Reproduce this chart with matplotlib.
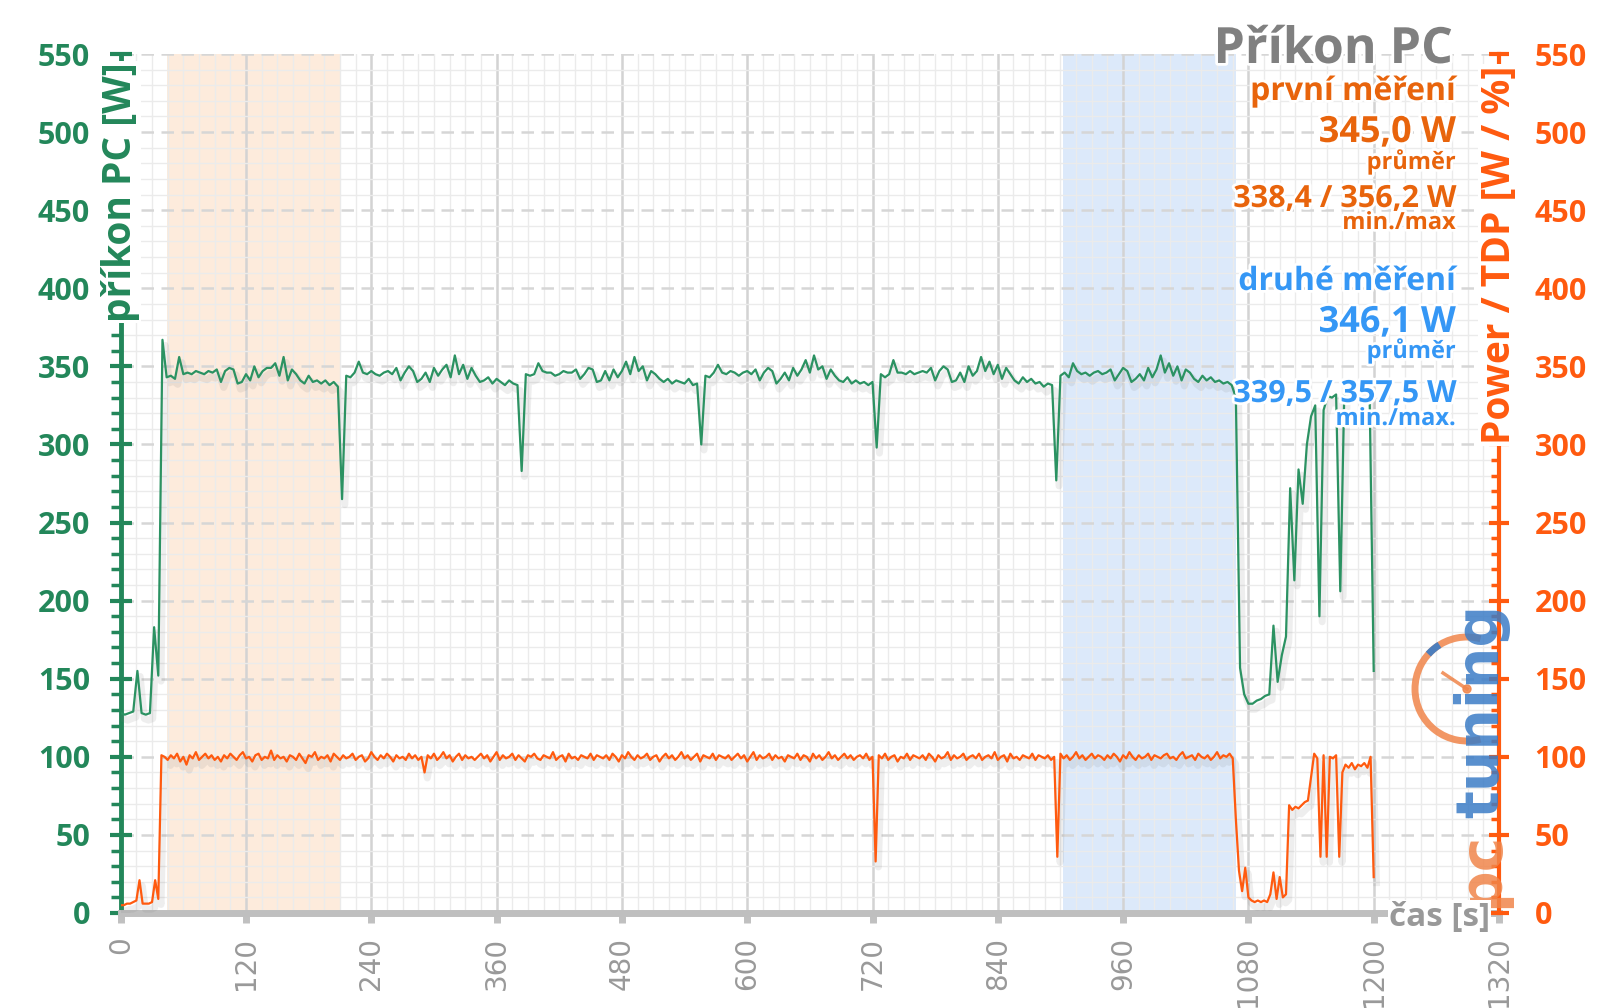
import numpy as np
import matplotlib
matplotlib.use('Agg')
import matplotlib.pyplot as plt
from matplotlib import patheffects as pe
from matplotlib.ticker import MultipleLocator
from matplotlib.patches import Arc, Circle

plt.rcParams['font.family'] = ['Open Sans', 'DejaVu Sans']

# příkon PC [W], jeden vzorek každé 4 s (0 .. 1200 s)
prikon_pc = [
    128, 127, 128, 129, 155, 128, 127, 128, 183, 152, 367,
    343, 344, 342, 356, 345, 346, 345, 347, 346, 345, 347, 346, 348, 340, 347, 349, 348, 339, 340, 345, 341,
    350, 343, 347, 349, 349, 352, 344, 356, 341, 348, 345, 341, 339, 344, 340, 341, 339, 341, 338, 340, 337,
    265,
    344, 343, 346, 353, 346, 345, 347, 345, 344, 346, 347, 345, 349, 341, 346, 350, 347, 340, 342, 346, 340,
    349, 344, 348, 351, 343, 357, 345, 351, 342, 349, 344, 340, 341, 343, 339, 342, 340, 338, 341, 339, 338,
    283,
    345, 344, 345, 352, 347, 346, 346, 344, 345, 347, 346, 346, 348, 342, 345, 349, 348, 340, 341, 347, 341,
    348, 343, 347, 353, 345, 356, 347, 350, 341, 347, 345, 342, 340, 342, 339, 341, 340, 339, 342, 338, 339,
    300,
    344, 343, 346, 351, 346, 345, 347, 346, 344, 346, 347, 345, 348, 341, 346, 349, 347, 339, 342, 346, 341,
    349, 344, 348, 354, 346, 357, 348, 350, 342, 348, 344, 341, 340, 343, 339, 341, 339, 340, 338, 340,
    298,
    345, 343, 345, 354, 346, 346, 345, 347, 345, 346, 347, 346, 349, 341, 347, 350, 348, 340, 341, 346, 340,
    350, 344, 347, 356, 347, 353, 345, 351, 342, 349, 345, 341, 339, 343, 340, 342, 339, 340, 337, 339, 338,
    277,
    344, 346, 343, 352, 347, 345, 346, 344, 346, 347, 345, 346, 348, 341, 345, 349, 347, 340, 342, 345, 341,
    349, 343, 348, 357, 346, 352, 344, 350, 341, 348, 346, 342, 340, 344, 341, 343, 340, 341, 339, 340, 338,
    330, 157, 140, 134, 134, 136, 137, 139, 140, 184, 148, 165, 177, 272, 213, 284, 262, 300, 318, 325,
    190, 322, 331, 330, 332, 206, 338, 336, 340, 334, 338, 336, 335, 155,
]

# Power / TDP [W / %], jeden vzorek každé 3 s (0 .. 1200 s)
power_tdp = [
    5, 5, 6, 6, 7, 8, 21, 6, 6, 6, 7, 21, 9, 101,
    100, 98, 101, 99, 102, 97, 100, 95, 101, 99, 103, 98, 100, 102, 99, 101, 98, 100, 97, 101,
    99, 102, 100, 98, 101, 103, 99, 100, 97, 101, 102, 98, 100, 99, 104, 98, 101, 99, 100, 97,
    101, 100, 98, 102, 99, 96, 101, 100, 103, 98, 100, 99, 101, 97, 102, 100, 98, 101, 99, 100,
    102, 98, 100, 101, 97, 99, 103, 100, 98, 101, 99, 102, 100, 97, 101, 99, 100, 98, 102, 99,
    101, 98, 100, 90, 101, 99, 102, 98, 100, 103, 99, 101, 97, 100, 102, 98, 101, 99, 100, 98,
    100, 102, 99, 101, 97, 100, 103, 98, 101, 99, 100, 102, 98, 101, 99, 97, 101, 100, 102, 99,
    98, 101, 100, 99, 103, 98, 100, 101, 97, 102, 99, 100, 98, 101, 100, 99, 102, 98, 101, 100,
    99, 101, 98, 102, 100, 97, 101, 99, 103, 100, 98, 101, 99, 100, 102, 98, 100, 101, 97, 100,
    102, 99, 101, 98, 100, 103, 99, 101, 98, 100, 102, 97, 101, 100, 99, 102, 98, 101, 100, 99,
    101, 98, 100, 102, 99, 101, 97, 100, 103, 98, 101, 99, 100, 102, 98, 101, 99, 100, 97, 101,
    100, 99, 102, 98, 101, 100, 97, 102, 99, 101, 98, 100, 103, 99, 101, 98, 100, 102, 99, 101,
    98, 100, 101, 99, 102, 98, 100, 33, 101, 99, 102, 98, 100, 101, 97, 100, 99, 102, 98, 101,
    100, 99, 101, 98, 102, 100, 97, 101, 99, 100, 103, 98, 101, 99, 100, 102, 98, 100, 101, 99,
    102, 98, 100, 101, 99, 103, 98, 100, 101, 97, 102, 99, 100, 98, 101, 100, 99, 102, 98, 101,
    100, 99, 101, 98, 100, 36, 102, 99, 101, 98, 100, 103, 99, 101, 98, 100, 102, 99, 101, 100,
    98, 101, 99, 102, 100, 97, 101, 99, 103, 100, 98, 101, 99, 100, 102, 98, 101, 100, 99, 101,
    102, 99, 100, 98, 101, 103, 99, 100, 101, 98, 102, 100, 99, 101, 98, 100, 103, 99, 101, 100,
    102, 99,
    60, 27, 14, 29, 10, 8, 7, 8, 7, 8, 7, 12, 26, 9, 23, 10, 12, 69, 66, 68,
    67, 69, 71, 72, 87, 102, 99, 36, 101, 36, 100, 99, 101, 36, 90, 95, 93, 96, 92, 95,
    94, 96, 93, 100, 23,
]

t_prikon = np.arange(len(prikon_pc)) * 4
t_power = np.arange(len(power_tdp)) * 3

prvni_usek = (44, 210)     # zvýrazněný úsek prvního měření [s]
druhy_usek = (902, 1068)   # zvýrazněný úsek druhého měření [s]

x_ticks = list(range(0, 1321, 120))
y_ticks = list(range(0, 551, 50))

GREEN = '#23875a'
GREEN_LINE = '#2b9262'
ORANGE = '#ff5a0f'
ORANGE_TXT = '#e8640c'
BLUE_TXT = '#3597f5'
GRAY = '#808080'

W, H = 1600, 1008
fig = plt.figure(figsize=(W / 100, H / 100), dpi=100)
ax = fig.add_axes([120.7 / W, 1 - 913 / H, 1378.3 / W, 859 / H])
ax.set_xlim(0, 1320)
ax.set_ylim(0, 550)

ax.axvspan(*prvni_usek, color='#fdebdc', zorder=0.1, lw=0)
ax.axvspan(*druhy_usek, color='#dce9fa', zorder=0.1, lw=0)

ax.set_axisbelow(True)
ax.xaxis.set_minor_locator(MultipleLocator(15))
ax.yaxis.set_minor_locator(MultipleLocator(10))
ax.grid(which='minor', color='#ebebeb', lw=1)
ax.grid(which='major', axis='x', color='#d3d3d3', lw=1.8)
ax.grid(which='major', axis='y', color='#d6d6d6', lw=1.8, ls=(0, (5, 3)))

shadow = [pe.SimpleLineShadow(offset=(2, -4), shadow_color='#777777', alpha=0.12, linewidth=5), pe.Normal()]
ax.plot(t_prikon, prikon_pc, color=GREEN_LINE, lw=1.6, path_effects=shadow, zorder=3)

ax2 = ax.twinx()
ax2.set_ylim(0, 550)
ax2.plot(t_power, power_tdp, color=ORANGE, lw=1.6, path_effects=shadow, zorder=3)

# osy
for a in (ax, ax2):
    a.spines['top'].set_visible(False)
ax.spines['right'].set_visible(False)
ax2.spines['left'].set_visible(False)
ax2.spines['bottom'].set_visible(False)
ax.spines['left'].set_color(GREEN)
ax.spines['left'].set_linewidth(3.5)
ax.spines['bottom'].set_color('#bfbfbf')
ax.spines['bottom'].set_linewidth(5)
ax2.spines['right'].set_color(ORANGE)
ax2.spines['right'].set_linewidth(3)

ax.set_xticks(x_ticks, labels=[str(v) for v in x_ticks], rotation=90,
              fontsize=20, color='#999999', family='DejaVu Sans')
ax.tick_params(axis='x', which='major', direction='out', length=7, width=5, color='#c0c0c0', pad=10)
ax.tick_params(axis='x', which='minor', length=0)

ax.set_yticks(y_ticks, labels=[str(v) for v in y_ticks], fontsize=22, fontweight='bold')
ax.tick_params(axis='y', which='major', direction='inout', length=16, width=3, color=GREEN,
               labelcolor=GREEN, pad=14)
ax.tick_params(axis='y', which='minor', direction='out', length=7, width=2.5, color=GREEN)

ax2.yaxis.set_minor_locator(MultipleLocator(10))
ax2.set_yticks(y_ticks, labels=[str(v) for v in y_ticks], fontsize=22, fontweight='bold')
ax2.tick_params(axis='y', which='major', direction='inout', length=15, width=3, color=ORANGE,
                labelcolor=ORANGE, pad=18)
ax2.tick_params(axis='y', which='minor', direction='in', length=6, width=2.5, color=ORANGE)


def px(x, y):
    return x / W, 1 - y / H


box = dict(facecolor='white', edgecolor='none', pad=1)
fig.text(*px(120, 192), 'příkon PC [W]', rotation=90, ha='center', va='center',
         color=GREEN, fontsize=28, fontweight='bold', bbox=box)
fig.text(*px(1499, 255), 'Power / TDP [W / %]', rotation=90, ha='center', va='center',
         color=ORANGE, fontsize=28, fontweight='bold', bbox=box)
fig.text(*px(1490, 918), 'čas [s]', ha='right', va='center', color='#999999',
         fontsize=24, fontweight='bold', bbox=box)

halo = [pe.withStroke(linewidth=4, foreground='white')]
fig.text(*px(1453, 63), 'Příkon PC', ha='right', va='baseline', color=GRAY,
         fontsize=36, fontweight='bold', path_effects=halo)
popisky = [
    ('první měření', 100, 23, ORANGE_TXT),
    ('345,0 W', 142, 26, ORANGE_TXT),
    ('průměr', 169, 17, ORANGE_TXT),
    ('338,4 / 356,2 W', 207, 22, ORANGE_TXT),
    ('min./max', 229, 17, ORANGE_TXT),
    ('druhé měření', 290, 23, BLUE_TXT),
    ('346,1 W', 332, 26, BLUE_TXT),
    ('průměr', 358, 17, BLUE_TXT),
    ('339,5 / 357,5 W', 402, 22, BLUE_TXT),
    ('min./max.', 425, 17, BLUE_TXT),
]
for txt, yb, fs, col in popisky:
    fig.text(*px(1456, yb), txt, ha='right', va='baseline', color=col,
             fontsize=fs, fontweight='bold', path_effects=halo)

# logo pctuning
lg = fig.add_axes([1400 / W, 1 - 915 / H, 110 / W, 335 / H])
lg.set_xlim(1400, 1510)
lg.set_ylim(H - 915, H - 580)
lg.axis('off')
cx, cy = 1467, H - 689
lg.add_patch(Arc((cx, cy), 104, 104, theta1=75, theta2=285, color='#f0854a', lw=5, alpha=0.85))
lg.add_patch(Arc((cx, cy), 104, 104, theta1=122, theta2=138, color='#3b7cc6', lw=5, alpha=0.9))
lg.plot([cx, cx - 24], [cy, cy + 16], color='#f0854a', lw=2.5, alpha=0.85)
lg.add_patch(Circle((cx, cy), 4, color='#f0854a', alpha=0.85))
lg.text(1482, H - 908, 'pc', rotation=90, ha='center', va='bottom', color='#f0854a',
        fontsize=42, fontweight='bold', family='DejaVu Sans', alpha=0.85)
lg.text(1482, H - 818, 'tuning', rotation=90, ha='center', va='bottom', color='#3b7cc6',
        fontsize=42, fontweight='bold', family='DejaVu Sans', alpha=0.85)

fig.savefig('out.png', dpi=100)
